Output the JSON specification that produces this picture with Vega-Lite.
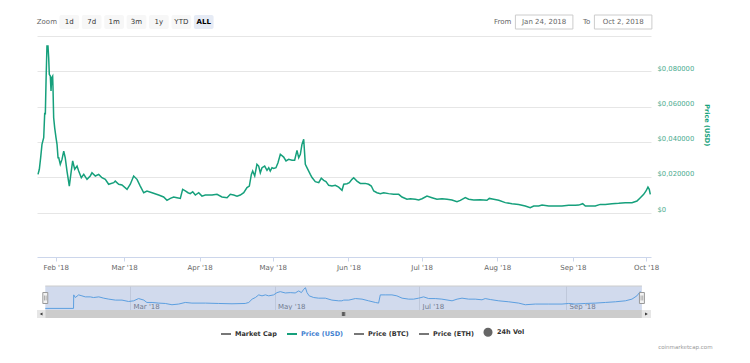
{
  "$schema": "https://vega.github.io/schema/vega-lite/v6.json",
  "padding": {"left": 35, "top": 14, "right": 5, "bottom": 5},
  "autosize": {"type": "pad"},
  "background": "white",
  "config": {"view": {"stroke": null}, "font": "DejaVu Sans"},
  "title": {"text": "coinmarketcap.com", "orient": "bottom", "anchor": "end", "frame": "bounds", "fontSize": 5.5, "fontWeight": "normal", "color": "#999999", "dx": 3, "offset": 5},
  "datasets": {
    "buttons": [{"b": "Zoom"}, {"b": "1d"}, {"b": "7d"}, {"b": "1m"}, {"b": "3m"}, {"b": "1y"}, {"b": "YTD"}, {"b": "ALL"}],
    "range": [{"label": "From", "value": "Jan 24, 2018"}, {"label": "To", "value": "Oct 2, 2018"}],
    "mask": [{"from": "2018-01-24T03:00", "to": "2018-10-02T22:00"}],
    "handles": [{"t": "2018-01-24T03:00"}, {"t": "2018-10-02T22:00"}],
    "scroll": [
      {"part": "left", "start": "2018-01-20T15:00", "end": "2018-01-24T03:00", "mid": "2018-01-22T09:00"},
      {"part": "thumb", "start": "2018-01-24T03:00", "end": "2018-10-02T22:00", "mid": "2018-05-30T00:00"},
      {"part": "right", "start": "2018-10-02T22:00", "end": "2018-10-06T18:00", "mid": "2018-10-04T20:00"}
    ],
    "price": [
      {"t": "2018-01-24T18:00", "v": 0.0216}, {"t": "2018-01-25T07:00", "v": 0.0245}, {"t": "2018-01-25T20:00", "v": 0.0311},
      {"t": "2018-01-26T09:00", "v": 0.0386}, {"t": "2018-01-27T02:00", "v": 0.0424}, {"t": "2018-01-27T12:00", "v": 0.0565},
      {"t": "2018-01-27T18:00", "v": 0.0556}, {"t": "2018-01-28T01:00", "v": 0.0745}, {"t": "2018-01-28T10:00", "v": 0.0943},
      {"t": "2018-01-28T20:00", "v": 0.0943}, {"t": "2018-01-29T03:00", "v": 0.0877}, {"t": "2018-01-29T09:00", "v": 0.0783},
      {"t": "2018-01-29T19:00", "v": 0.0773}, {"t": "2018-01-30T02:00", "v": 0.0688}, {"t": "2018-01-30T09:00", "v": 0.0764},
      {"t": "2018-01-30T18:00", "v": 0.0773}, {"t": "2018-01-30T21:00", "v": 0.0717}, {"t": "2018-01-31T04:00", "v": 0.0537},
      {"t": "2018-01-31T14:00", "v": 0.048}, {"t": "2018-02-01T03:00", "v": 0.0424}, {"t": "2018-02-01T13:00", "v": 0.0386},
      {"t": "2018-02-01T23:00", "v": 0.031}, {"t": "2018-02-02T06:00", "v": 0.031}, {"t": "2018-02-02T21:00", "v": 0.0273},
      {"t": "2018-02-03T14:00", "v": 0.0301}, {"t": "2018-02-04T07:00", "v": 0.0348}, {"t": "2018-02-04T22:00", "v": 0.031},
      {"t": "2018-02-05T15:00", "v": 0.0235}, {"t": "2018-02-06T14:00", "v": 0.015}, {"t": "2018-02-07T09:00", "v": 0.0235},
      {"t": "2018-02-07T23:00", "v": 0.0292}, {"t": "2018-02-08T19:00", "v": 0.0245}, {"t": "2018-02-09T18:00", "v": 0.0263},
      {"t": "2018-02-10T10:00", "v": 0.0235}, {"t": "2018-02-11T12:00", "v": 0.0197}, {"t": "2018-02-12T12:00", "v": 0.0216},
      {"t": "2018-02-13T20:00", "v": 0.0188}, {"t": "2018-02-15T04:00", "v": 0.0207}, {"t": "2018-02-15T21:00", "v": 0.0225},
      {"t": "2018-02-17T06:00", "v": 0.0207}, {"t": "2018-02-18T15:00", "v": 0.0216}, {"t": "2018-02-19T23:00", "v": 0.0197},
      {"t": "2018-02-21T08:00", "v": 0.0188}, {"t": "2018-02-22T17:00", "v": 0.016}, {"t": "2018-02-24T19:00", "v": 0.0169},
      {"t": "2018-02-25T10:00", "v": 0.0178}, {"t": "2018-02-26T20:00", "v": 0.016}, {"t": "2018-02-28T04:00", "v": 0.0156},
      {"t": "2018-03-02T06:00", "v": 0.0131}, {"t": "2018-03-03T14:00", "v": 0.016}, {"t": "2018-03-04T23:00", "v": 0.0207},
      {"t": "2018-03-06T08:00", "v": 0.0188}, {"t": "2018-03-07T16:00", "v": 0.015}, {"t": "2018-03-09T02:00", "v": 0.0112},
      {"t": "2018-03-10T10:00", "v": 0.0122}, {"t": "2018-03-12T12:00", "v": 0.0112}, {"t": "2018-03-15T05:00", "v": 0.0099},
      {"t": "2018-03-17T06:00", "v": 0.0088}, {"t": "2018-03-18T15:00", "v": 0.0069}, {"t": "2018-03-20T00:00", "v": 0.008},
      {"t": "2018-03-21T09:00", "v": 0.0088}, {"t": "2018-03-22T17:00", "v": 0.0084}, {"t": "2018-03-24T02:00", "v": 0.008},
      {"t": "2018-03-25T01:00", "v": 0.0131}, {"t": "2018-03-26T03:00", "v": 0.0122}, {"t": "2018-03-27T06:00", "v": 0.0112},
      {"t": "2018-03-28T04:00", "v": 0.0107}, {"t": "2018-03-29T04:00", "v": 0.0118}, {"t": "2018-03-30T06:00", "v": 0.0099},
      {"t": "2018-03-31T15:00", "v": 0.0112}, {"t": "2018-04-01T23:00", "v": 0.0093}, {"t": "2018-04-03T08:00", "v": 0.0099},
      {"t": "2018-04-06T02:00", "v": 0.0099}, {"t": "2018-04-08T03:00", "v": 0.0103}, {"t": "2018-04-10T04:00", "v": 0.0088},
      {"t": "2018-04-12T06:00", "v": 0.0084}, {"t": "2018-04-13T14:00", "v": 0.0103}, {"t": "2018-04-14T23:00", "v": 0.0099},
      {"t": "2018-04-16T08:00", "v": 0.0093}, {"t": "2018-04-17T16:00", "v": 0.0099}, {"t": "2018-04-19T02:00", "v": 0.0112},
      {"t": "2018-04-20T10:00", "v": 0.0141}, {"t": "2018-04-21T09:00", "v": 0.015}, {"t": "2018-04-22T05:00", "v": 0.0216},
      {"t": "2018-04-22T18:00", "v": 0.0235}, {"t": "2018-04-23T14:00", "v": 0.0207}, {"t": "2018-04-24T12:00", "v": 0.0273},
      {"t": "2018-04-25T05:00", "v": 0.0263}, {"t": "2018-04-25T21:00", "v": 0.0225}, {"t": "2018-04-26T14:00", "v": 0.0254},
      {"t": "2018-04-27T16:00", "v": 0.0263}, {"t": "2018-04-28T15:00", "v": 0.0239}, {"t": "2018-04-29T08:00", "v": 0.0254},
      {"t": "2018-04-29T23:00", "v": 0.0235}, {"t": "2018-04-30T16:00", "v": 0.0254}, {"t": "2018-05-01T09:00", "v": 0.025},
      {"t": "2018-05-02T07:00", "v": 0.0254}, {"t": "2018-05-03T03:00", "v": 0.0282}, {"t": "2018-05-04T02:00", "v": 0.033},
      {"t": "2018-05-05T11:00", "v": 0.0314}, {"t": "2018-05-06T10:00", "v": 0.0292}, {"t": "2018-05-07T12:00", "v": 0.0301},
      {"t": "2018-05-08T21:00", "v": 0.0296}, {"t": "2018-05-09T23:00", "v": 0.0296}, {"t": "2018-05-10T22:00", "v": 0.0352},
      {"t": "2018-05-11T15:00", "v": 0.031}, {"t": "2018-05-12T07:00", "v": 0.033}, {"t": "2018-05-12T23:00", "v": 0.0386},
      {"t": "2018-05-13T16:00", "v": 0.0415}, {"t": "2018-05-14T08:00", "v": 0.0273}, {"t": "2018-05-15T00:00", "v": 0.0254},
      {"t": "2018-05-16T09:00", "v": 0.0216}, {"t": "2018-05-17T02:00", "v": 0.0198}, {"t": "2018-05-18T10:00", "v": 0.0175},
      {"t": "2018-05-19T20:00", "v": 0.0169}, {"t": "2018-05-20T21:00", "v": 0.0194}, {"t": "2018-05-21T21:00", "v": 0.0182},
      {"t": "2018-05-22T19:00", "v": 0.0175}, {"t": "2018-05-23T22:00", "v": 0.0154}, {"t": "2018-05-25T06:00", "v": 0.015},
      {"t": "2018-05-26T15:00", "v": 0.0154}, {"t": "2018-05-28T00:00", "v": 0.0144}, {"t": "2018-05-29T09:00", "v": 0.0126},
      {"t": "2018-05-30T02:00", "v": 0.016}, {"t": "2018-05-31T10:00", "v": 0.0163}, {"t": "2018-06-01T09:00", "v": 0.0169},
      {"t": "2018-06-02T11:00", "v": 0.0188}, {"t": "2018-06-03T04:00", "v": 0.0197}, {"t": "2018-06-04T12:00", "v": 0.0178},
      {"t": "2018-06-05T21:00", "v": 0.0165}, {"t": "2018-06-07T22:00", "v": 0.0165}, {"t": "2018-06-09T07:00", "v": 0.016},
      {"t": "2018-06-10T09:00", "v": 0.015}, {"t": "2018-06-11T09:00", "v": 0.0122}, {"t": "2018-06-12T17:00", "v": 0.0112},
      {"t": "2018-06-14T02:00", "v": 0.0107}, {"t": "2018-06-15T11:00", "v": 0.0112}, {"t": "2018-06-17T12:00", "v": 0.0107},
      {"t": "2018-06-19T13:00", "v": 0.0103}, {"t": "2018-06-21T15:00", "v": 0.0103}, {"t": "2018-06-22T23:00", "v": 0.0088},
      {"t": "2018-06-25T00:00", "v": 0.0075}, {"t": "2018-06-26T09:00", "v": 0.0078}, {"t": "2018-06-28T10:00", "v": 0.0075},
      {"t": "2018-06-29T19:00", "v": 0.0071}, {"t": "2018-07-01T04:00", "v": 0.0078}, {"t": "2018-07-03T05:00", "v": 0.0093},
      {"t": "2018-07-05T06:00", "v": 0.0084}, {"t": "2018-07-07T07:00", "v": 0.0075}, {"t": "2018-07-09T09:00", "v": 0.0078},
      {"t": "2018-07-11T10:00", "v": 0.0075}, {"t": "2018-07-13T11:00", "v": 0.0071}, {"t": "2018-07-15T12:00", "v": 0.0061},
      {"t": "2018-07-16T21:00", "v": 0.0069}, {"t": "2018-07-18T22:00", "v": 0.0084}, {"t": "2018-07-20T07:00", "v": 0.0075},
      {"t": "2018-07-22T09:00", "v": 0.0071}, {"t": "2018-07-25T01:00", "v": 0.0073}, {"t": "2018-07-27T19:00", "v": 0.0069},
      {"t": "2018-07-28T18:00", "v": 0.008}, {"t": "2018-07-30T13:00", "v": 0.0075}, {"t": "2018-08-01T15:00", "v": 0.0069},
      {"t": "2018-08-04T07:00", "v": 0.0056}, {"t": "2018-08-07T01:00", "v": 0.005}, {"t": "2018-08-09T19:00", "v": 0.0046},
      {"t": "2018-08-12T12:00", "v": 0.0037}, {"t": "2018-08-14T13:00", "v": 0.0027}, {"t": "2018-08-15T23:00", "v": 0.0037},
      {"t": "2018-08-18T00:00", "v": 0.0037}, {"t": "2018-08-19T09:00", "v": 0.0042}, {"t": "2018-08-22T03:00", "v": 0.0037},
      {"t": "2018-08-24T19:00", "v": 0.0037}, {"t": "2018-08-27T13:00", "v": 0.0037}, {"t": "2018-08-30T07:00", "v": 0.0041},
      {"t": "2018-09-02T00:00", "v": 0.0041}, {"t": "2018-09-03T10:00", "v": 0.0042}, {"t": "2018-09-05T01:00", "v": 0.005},
      {"t": "2018-09-06T03:00", "v": 0.0037}, {"t": "2018-09-08T04:00", "v": 0.0037}, {"t": "2018-09-10T05:00", "v": 0.0037},
      {"t": "2018-09-12T06:00", "v": 0.0046}, {"t": "2018-09-14T07:00", "v": 0.0046}, {"t": "2018-09-17T01:00", "v": 0.005},
      {"t": "2018-09-19T19:00", "v": 0.0052}, {"t": "2018-09-22T12:00", "v": 0.0056}, {"t": "2018-09-25T06:00", "v": 0.0056},
      {"t": "2018-09-27T07:00", "v": 0.0065}, {"t": "2018-09-28T16:00", "v": 0.0084}, {"t": "2018-09-30T01:00", "v": 0.0103},
      {"t": "2018-10-01T00:00", "v": 0.0122}, {"t": "2018-10-01T19:00", "v": 0.0144}, {"t": "2018-10-02T08:00", "v": 0.0131},
      {"t": "2018-10-02T18:00", "v": 0.0103}
    ],
    "nav": [
      {"t": "2018-01-24T03:00", "v": 0}, {"t": "2018-02-05T01:00", "v": 0}, {"t": "2018-02-05T03:00", "v": 0.028},
      {"t": "2018-02-05T19:00", "v": 0.0225}, {"t": "2018-02-07T05:00", "v": 0.028}, {"t": "2018-02-08T14:00", "v": 0.026},
      {"t": "2018-02-10T00:00", "v": 0.0239}, {"t": "2018-02-12T02:00", "v": 0.0239}, {"t": "2018-02-13T12:00", "v": 0.0225},
      {"t": "2018-02-15T17:00", "v": 0.0239}, {"t": "2018-02-17T19:00", "v": 0.0212}, {"t": "2018-02-19T22:00", "v": 0.0192},
      {"t": "2018-02-22T17:00", "v": 0.0172}, {"t": "2018-02-25T12:00", "v": 0.0172}, {"t": "2018-02-28T07:00", "v": 0.0143},
      {"t": "2018-03-02T10:00", "v": 0.0157}, {"t": "2018-03-04T12:00", "v": 0.0204}, {"t": "2018-03-06T17:00", "v": 0.0172},
      {"t": "2018-03-08T00:00", "v": 0.0123}, {"t": "2018-03-10T05:00", "v": 0.0123}, {"t": "2018-03-13T00:00", "v": 0.011},
      {"t": "2018-03-15T19:00", "v": 0.0102}, {"t": "2018-03-18T14:00", "v": 0.0076}, {"t": "2018-03-21T10:00", "v": 0.009},
      {"t": "2018-03-24T05:00", "v": 0.0123}, {"t": "2018-03-27T00:00", "v": 0.011}, {"t": "2018-04-01T17:00", "v": 0.011},
      {"t": "2018-04-07T07:00", "v": 0.0102}, {"t": "2018-04-12T22:00", "v": 0.0096}, {"t": "2018-04-18T12:00", "v": 0.0102},
      {"t": "2018-04-20T00:00", "v": 0.0123}, {"t": "2018-04-21T10:00", "v": 0.0192}, {"t": "2018-04-22T19:00", "v": 0.0225},
      {"t": "2018-04-24T05:00", "v": 0.028}, {"t": "2018-04-25T14:00", "v": 0.026}, {"t": "2018-04-27T00:00", "v": 0.028},
      {"t": "2018-04-28T10:00", "v": 0.026}, {"t": "2018-04-30T12:00", "v": 0.028}, {"t": "2018-05-01T22:00", "v": 0.0327},
      {"t": "2018-05-03T07:00", "v": 0.0347}, {"t": "2018-05-05T10:00", "v": 0.032}, {"t": "2018-05-07T12:00", "v": 0.0327},
      {"t": "2018-05-09T14:00", "v": 0.032}, {"t": "2018-05-11T02:00", "v": 0.0362}, {"t": "2018-05-12T05:00", "v": 0.0327},
      {"t": "2018-05-13T05:00", "v": 0.0397}, {"t": "2018-05-13T22:00", "v": 0.0429}, {"t": "2018-05-14T14:00", "v": 0.0327},
      {"t": "2018-05-15T12:00", "v": 0.026}, {"t": "2018-05-17T10:00", "v": 0.0225}, {"t": "2018-05-19T12:00", "v": 0.0212},
      {"t": "2018-05-22T07:00", "v": 0.0212}, {"t": "2018-05-25T02:00", "v": 0.0172}, {"t": "2018-05-27T22:00", "v": 0.0157},
      {"t": "2018-05-29T07:00", "v": 0.0157}, {"t": "2018-05-30T02:00", "v": 0.0172}, {"t": "2018-06-01T05:00", "v": 0.0172},
      {"t": "2018-06-04T00:00", "v": 0.0204}, {"t": "2018-06-06T19:00", "v": 0.0192}, {"t": "2018-06-09T14:00", "v": 0.0157},
      {"t": "2018-06-12T10:00", "v": 0.0123}, {"t": "2018-06-13T19:00", "v": 0.011}, {"t": "2018-06-14T12:00", "v": 0.028},
      {"t": "2018-06-16T14:00", "v": 0.028}, {"t": "2018-06-19T10:00", "v": 0.028}, {"t": "2018-06-21T12:00", "v": 0.026},
      {"t": "2018-06-23T17:00", "v": 0.0212}, {"t": "2018-06-26T12:00", "v": 0.0192}, {"t": "2018-06-28T14:00", "v": 0.0192},
      {"t": "2018-06-30T17:00", "v": 0.0212}, {"t": "2018-07-02T19:00", "v": 0.0239}, {"t": "2018-07-04T22:00", "v": 0.0204},
      {"t": "2018-07-07T17:00", "v": 0.0204}, {"t": "2018-07-10T12:00", "v": 0.0192}, {"t": "2018-07-14T19:00", "v": 0.0157},
      {"t": "2018-07-16T22:00", "v": 0.0192}, {"t": "2018-07-19T00:00", "v": 0.0212}, {"t": "2018-07-21T19:00", "v": 0.0192},
      {"t": "2018-07-24T14:00", "v": 0.0192}, {"t": "2018-07-27T10:00", "v": 0.0178}, {"t": "2018-07-28T19:00", "v": 0.0204},
      {"t": "2018-07-30T22:00", "v": 0.0184}, {"t": "2018-08-03T12:00", "v": 0.0157}, {"t": "2018-08-07T17:00", "v": 0.0137},
      {"t": "2018-08-11T22:00", "v": 0.011}, {"t": "2018-08-14T17:00", "v": 0.0076}, {"t": "2018-08-18T22:00", "v": 0.009},
      {"t": "2018-08-24T14:00", "v": 0.009}, {"t": "2018-08-30T05:00", "v": 0.009}, {"t": "2018-09-02T00:00", "v": 0.0102},
      {"t": "2018-09-04T19:00", "v": 0.009}, {"t": "2018-09-09T00:00", "v": 0.0102}, {"t": "2018-09-13T05:00", "v": 0.011},
      {"t": "2018-09-17T12:00", "v": 0.0123}, {"t": "2018-09-21T17:00", "v": 0.0137}, {"t": "2018-09-25T22:00", "v": 0.0157},
      {"t": "2018-09-28T17:00", "v": 0.0192}, {"t": "2018-09-30T19:00", "v": 0.026}, {"t": "2018-10-02T05:00", "v": 0.0347},
      {"t": "2018-10-02T22:00", "v": 0.0292}
    ]
  },
  "spacing": 21,
  "bounds": "flush",
  "vconcat": [
    {
      "spacing": 279.4,
      "bounds": "flush",
      "hconcat": [
        {
          "width": 176.6,
          "height": 14,
          "data": {"name": "buttons"},
          "layer": [
            {
              "transform": [{"filter": "datum.b !== 'Zoom'"}],
              "mark": {"type": "bar", "cornerRadius": 2},
              "encoding": {
                "x": {"field": "b", "type": "nominal", "sort": null, "scale": {"domain": ["Zoom", "1d", "7d", "1m", "3m", "1y", "YTD", "ALL"], "paddingInner": 0.12, "paddingOuter": 0}, "axis": null},
                "color": {"condition": {"test": "datum.b === 'ALL'", "value": "#e6ebf5"}, "value": "#f7f7f7"}
              }
            },
            {
              "transform": [{"filter": "datum.b !== 'ALL'"}],
              "mark": {"type": "text", "fontSize": 7},
              "encoding": {
                "x": {"field": "b", "type": "nominal", "sort": null},
                "text": {"field": "b"},
                "color": {"condition": {"test": "datum.b === 'Zoom'", "value": "#666666"}, "value": "#333333"}
              }
            },
            {
              "transform": [{"filter": "datum.b === 'ALL'"}],
              "mark": {"type": "text", "fontSize": 7, "fontWeight": "bold", "color": "#000000"},
              "encoding": {
                "x": {"field": "b", "type": "nominal", "sort": null},
                "text": {"field": "b"}
              }
            }
          ]
        },
        {
          "width": 158,
          "height": 14,
          "data": {"name": "range"},
          "layer": [
            {
              "mark": {"type": "bar", "width": 57.5, "xOffset": 11.25, "fill": "#ffffff", "stroke": "#cccccc", "strokeWidth": 1},
              "encoding": {
                "x": {"field": "label", "type": "nominal", "sort": null, "scale": {"paddingInner": 0, "paddingOuter": 0}, "axis": null}
              }
            },
            {
              "mark": {"type": "text", "fontSize": 7, "align": "right", "dx": -21.5, "color": "#666666"},
              "encoding": {
                "x": {"field": "label", "type": "nominal", "sort": null},
                "text": {"field": "label"}
              }
            },
            {
              "mark": {"type": "text", "fontSize": 7, "dx": 11.25, "color": "#666666"},
              "encoding": {
                "x": {"field": "label", "type": "nominal", "sort": null},
                "text": {"field": "value"}
              }
            }
          ]
        }
      ]
    },
    {
      "spacing": 29,
      "bounds": "flush",
      "vconcat": [
        {
          "width": 614,
          "height": 221,
          "data": {"name": "price"},
          "mark": {"type": "line", "strokeWidth": 1.5},
          "encoding": {
            "x": {
              "field": "t", "type": "temporal",
              "scale": {"domain": [{"year": 2018, "month": 1, "date": 24, "hours": 8}, {"year": 2018, "month": 10, "date": 3, "hours": 1}]},
              "axis": {
                "orient": "bottom", "title": null,
                "values": [
                  {"year": 2018, "month": 2, "date": 1}, {"year": 2018, "month": 3, "date": 1}, {"year": 2018, "month": 4, "date": 1},
                  {"year": 2018, "month": 5, "date": 1}, {"year": 2018, "month": 6, "date": 1}, {"year": 2018, "month": 7, "date": 1},
                  {"year": 2018, "month": 8, "date": 1}, {"year": 2018, "month": 9, "date": 1}, {"year": 2018, "month": 10, "date": 1}
                ],
                "format": "%b '%y", "formatType": "time", "grid": false,
                "domainColor": "#ccd6eb", "tickColor": "#ccd6eb", "tickSize": 4, "labelPadding": 2,
                "labelFontSize": 7, "labelColor": "#666666", "labelFlush": false, "labelOverlap": false
              }
            },
            "y": {
              "field": "v", "type": "quantitative",
              "scale": {"domain": [-0.0252, 0.1], "nice": false, "zero": false},
              "axis": {
                "orient": "right", "title": "Price (USD)",
                "values": [0, 0.02, 0.04, 0.06, 0.08, 0.1],
                "grid": true, "gridColor": "#e6e6e6", "domain": false, "ticks": false, "tickSize": 0,
                "labelPadding": 6, "labelOffset": -3.3, "labelFontSize": 6.8, "labelColor": "#4aab8f", "labelAlign": "left", "labelOverlap": false,
                "labelExpr": "datum.value > 0.09 ? '' : (datum.value == 0 ? '$0' : '$' + replace(format(datum.value, '.6f'), '.', ','))",
                "titleColor": "#17a27b", "titleFontSize": 6.5, "titleFontWeight": "bold", "titleAngle": 90,
                "titleX": 55.5, "titleY": 88.7, "titleAlign": "center", "titleBaseline": "middle"
              }
            },
            "color": {
              "datum": "Price (USD)", "type": "nominal",
              "scale": {"domain": ["Market Cap", "Price (USD)", "Price (BTC)", "Price (ETH)", "24h Vol"], "range": ["#777777", "#16a07c", "#777777", "#777777", "#666666"]},
              "legend": {
                "orient": "none", "legendX": 183, "legendY": 311, "direction": "horizontal", "title": null,
                "symbolType": "stroke", "symbolStrokeWidth": 2, "symbolSize": 100,
                "labelFontSize": 6.5, "labelFontWeight": "bold", "labelColor": "#333333", "labelOffset": 3, "columnPadding": 6,
                "encode": {
                  "symbols": {"update": {
                    "shape": {"signal": "datum.value === '24h Vol' ? 'circle' : 'stroke'"},
                    "fill": {"signal": "datum.value === '24h Vol' ? '#666666' : 'transparent'"},
                    "size": {"signal": "datum.value === '24h Vol' ? 50 : 100"}
                  }},
                  "labels": {"update": {"fill": {"signal": "datum.value === 'Price (USD)' ? '#3f7fd0' : '#333333'"}}}
                }
              }
            }
          }
        },
        {
          "spacing": 0,
          "bounds": "flush",
          "vconcat": [
            {
              "width": 614,
              "height": 24,
              "layer": [
                {
                  "data": {"name": "mask"},
                  "mark": {"type": "rect", "fill": "#6685c2", "fillOpacity": 0.3},
                  "encoding": {
                    "x": {
                      "field": "from", "type": "temporal", "title": null,
                      "scale": {"domain": [{"year": 2018, "month": 1, "date": 20, "hours": 15}, {"year": 2018, "month": 10, "date": 6, "hours": 18}]},
                      "axis": {
                        "orient": "bottom",
                        "values": [{"year": 2018, "month": 3, "date": 1}, {"year": 2018, "month": 5, "date": 1}, {"year": 2018, "month": 7, "date": 1}, {"year": 2018, "month": 9, "date": 1}],
                        "format": "%b '%y", "formatType": "time", "grid": true, "gridColor": "#e6e6e6",
                        "domain": false, "ticks": false, "tickSize": 0, "labelPadding": -8, "labelAlign": "left", "labelBaseline": "top",
                        "labelOffset": 2.7, "labelFontSize": 7, "labelColor": "#777777", "labelFlush": false, "labelOverlap": false
                      }
                    },
                    "x2": {"field": "to"}
                  }
                },
                {
                  "data": {"name": "nav"},
                  "mark": {"type": "line", "stroke": "#5c9fe0", "strokeWidth": 1},
                  "encoding": {
                    "x": {"field": "t", "type": "temporal", "title": null},
                    "y": {"field": "v", "type": "quantitative", "scale": {"domain": [-0.0033, 0.0464], "nice": false, "zero": false}, "axis": null}
                  }
                },
                {
                  "data": {"name": "mask"},
                  "mark": {"type": "rule", "stroke": "#cccccc", "strokeWidth": 1},
                  "encoding": {
                    "x": {"field": "from", "type": "temporal", "title": null},
                    "x2": {"field": "to"},
                    "y": {"datum": 0.0464, "type": "quantitative", "axis": null}
                  }
                },
                {
                  "data": {"name": "handles"},
                  "mark": {"type": "point", "shape": "M-0.45,-1H0.45V1H-0.45Z", "size": 121, "filled": true, "fill": "#f2f2f2", "stroke": "#999999", "strokeWidth": 1, "opacity": 1},
                  "encoding": {
                    "x": {"field": "t", "type": "temporal", "title": null}
                  }
                },
                {
                  "data": {"name": "handles"},
                  "mark": {"type": "point", "shape": "M-0.15,-0.45V0.45M0.15,-0.45V0.45", "size": 121, "filled": false, "stroke": "#999999", "strokeWidth": 0.8, "opacity": 1},
                  "encoding": {
                    "x": {"field": "t", "type": "temporal", "title": null}
                  }
                }
              ]
            },
            {
              "width": 614,
              "height": 8,
              "data": {"name": "scroll"},
              "layer": [
                {
                  "mark": {"type": "rect"},
                  "encoding": {
                    "x": {"field": "start", "type": "temporal", "title": null, "axis": null,
                      "scale": {"domain": [{"year": 2018, "month": 1, "date": 20, "hours": 15}, {"year": 2018, "month": 10, "date": 6, "hours": 18}]}},
                    "x2": {"field": "end"},
                    "color": {"condition": {"test": "datum.part === 'thumb'", "value": "#cccccc"}, "value": "#e6e6e6"}
                  }
                },
                {
                  "transform": [{"filter": "datum.part !== 'thumb'"}],
                  "mark": {"type": "point", "filled": true, "size": 10, "color": "#333333", "opacity": 1},
                  "encoding": {
                    "x": {"field": "mid", "type": "temporal", "title": null},
                    "shape": {"condition": {"test": "datum.part === 'left'", "value": "triangle-left"}, "value": "triangle-right"}
                  }
                },
                {
                  "transform": [{"filter": "datum.part === 'thumb'"}],
                  "mark": {"type": "point", "shape": "M-0.6,-1V1M0,-1V1M0.6,-1V1", "size": 16, "filled": false, "stroke": "#333333", "strokeWidth": 0.8, "opacity": 1},
                  "encoding": {
                    "x": {"field": "mid", "type": "temporal", "title": null}
                  }
                }
              ]
            }
          ]
        }
      ]
    }
  ]
}
